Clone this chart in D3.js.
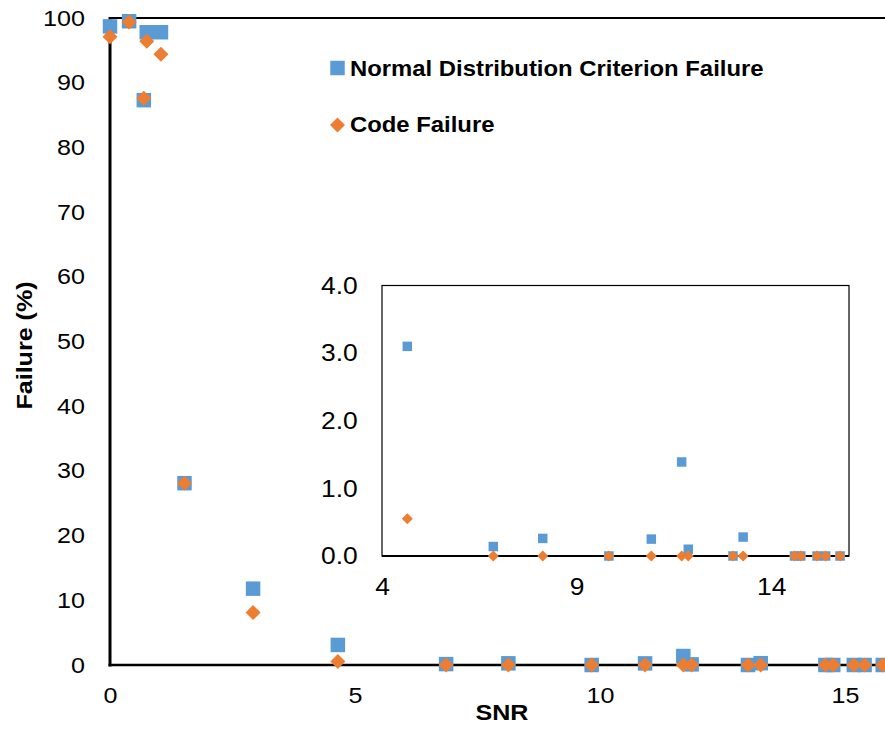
<!DOCTYPE html>
<html>
<head>
<meta charset="utf-8">
<script src="https://cdn.jsdelivr.net/npm/d3@7"></script>
<style>
  html, body { margin: 0; padding: 0; background: #ffffff; }
  svg { display: block; }
</style>
</head>
<body>
<script>
// Failure rates against signal-to-noise ratio
const snr            = [0, 0.39, 0.69, 0.75, 1.04, 1.52, 2.92, 4.65, 6.86, 8.13, 9.83, 10.92, 11.70, 11.87, 13.02, 13.28, 14.60, 14.76, 15.18, 15.40, 15.77];
const normalFailure  = [98.7, 99.5, 87.3, 97.8, 97.8, 28.1, 11.8, 3.10, 0.14, 0.26, 0, 0.25, 1.39, 0.10, 0, 0.28, 0, 0, 0, 0, 0];
const codeFailure    = [97.1, 99.4, 87.6, 96.4, 94.4, 28.1, 8.1, 0.55, 0, 0, 0, 0, 0, 0, 0, 0, 0, 0, 0, 0, 0];

const mainXTicks  = [0, 5, 10, 15];
const mainYTicks  = [0, 10, 20, 30, 40, 50, 60, 70, 80, 90, 100];
const insetXTicks = [4, 9, 14];
const insetYTicks = [0, 1, 2, 3, 4];

const seriesNames = ["Normal Distribution Criterion Failure", "Code Failure"];

const FONT = "'Liberation Sans', Arial, Helvetica, sans-serif";
const BLUE = "#5B9BD5";
const ORANGE = "#ED7D31";

const rows = snr.map((s, i) => ({ s, n: normalFailure[i], c: codeFailure[i] }));

const svg = d3.select("body").append("svg")
  .attr("width", 885)
  .attr("height", 730);

// marker generators: square and a square turned 45 degrees
const squareMark = size => d3.symbol().type(d3.symbolSquare).size(size * size)();
const diamondMark = diag => d3.symbol().type(d3.symbolSquare).size((diag * diag) / 2)();

// ---------- main chart ----------
const x = d3.scaleLinear().domain([0, 16]).range([110, 894]);
const y = d3.scaleLinear().domain([0, 100]).range([665, 18]);

function styleAxis(g, size, stretch) {
  g.attr("font-family", FONT).attr("font-size", size);
  g.select(".domain").remove();
  g.selectAll("text")
    .attr("fill", "#000")
    .attr("transform", `scale(${stretch},1)`);
}

svg.append("g")
  .attr("transform", `translate(${x(0)},0)`)
  .call(d3.axisLeft(y).tickValues(mainYTicks).tickSize(0).tickPadding(22).tickFormat(d3.format("d")))
  .call(g => styleAxis(g, 22, 1.14));

svg.append("g")
  .attr("transform", `translate(0,${y(0)})`)
  .call(d3.axisBottom(x).tickValues(mainXTicks).tickSize(0).tickPadding(22).tickFormat(d3.format("d")))
  .call(g => styleAxis(g, 22, 1.14));

// frame lines
svg.append("line").attr("x1", x(0)).attr("x2", 885).attr("y1", y(100)).attr("y2", y(100))
  .attr("stroke", "#000").attr("stroke-width", 2);
svg.append("line").attr("x1", x(0)).attr("x2", x(0)).attr("y1", y(100) - 1).attr("y2", y(0) + 1.5)
  .attr("stroke", "#000").attr("stroke-width", 3);
svg.append("line").attr("x1", x(0) - 1.5).attr("x2", 885).attr("y1", y(0)).attr("y2", y(0))
  .attr("stroke", "#000").attr("stroke-width", 2.5);

// axis titles
svg.append("text")
  .attr("transform", `translate(502,720) scale(1.14,1)`)
  .attr("text-anchor", "middle")
  .attr("font-family", FONT).attr("font-weight", "bold").attr("font-size", 22)
  .text("SNR");

svg.append("text")
  .attr("transform", `translate(32,${(y(0) + y(100)) / 2 + 4}) rotate(-90) scale(1.14,1)`)
  .attr("text-anchor", "middle")
  .attr("font-family", FONT).attr("font-weight", "bold").attr("font-size", 22)
  .text("Failure (%)");

// series markers
const main = svg.append("g");
main.selectAll("path.n").data(rows).join("path")
  .attr("class", "n")
  .attr("d", squareMark(14.5))
  .attr("transform", d => `translate(${x(d.s)},${y(d.n)})`)
  .attr("fill", BLUE);
main.selectAll("path.c").data(rows).join("path")
  .attr("class", "c")
  .attr("d", diamondMark(15))
  .attr("transform", d => `translate(${x(d.s)},${y(d.c)}) rotate(45)`)
  .attr("fill", ORANGE);

// legend
const legend = svg.append("g");
legend.append("path").attr("d", squareMark(14.5)).attr("transform", "translate(337.5,68)").attr("fill", BLUE);
legend.append("path").attr("d", diamondMark(15)).attr("transform", "translate(337.5,125) rotate(45)").attr("fill", ORANGE);
[[350, 76, seriesNames[0]], [350, 132, seriesNames[1]]].forEach(([lx, ly, t]) => {
  legend.append("text")
    .attr("transform", `translate(${lx},${ly}) scale(1.11,1)`)
    .attr("font-family", FONT).attr("font-weight", "bold").attr("font-size", 21.5)
    .attr("fill", "#000")
    .text(t);
});

// ---------- inset: close-up of the low-failure region ----------
const ix = d3.scaleLinear().domain([4, 16]).range([382, 849]);
const iy = d3.scaleLinear().domain([0, 4]).range([556, 285.5]);

const inset = svg.append("g");
inset.append("rect")
  .attr("x", ix(4)).attr("y", iy(4))
  .attr("width", ix(16) - ix(4)).attr("height", iy(0) - iy(4))
  .attr("fill", "#fff").attr("stroke", "#000").attr("stroke-width", 1.2);

inset.append("g")
  .attr("transform", `translate(${ix(4)},0)`)
  .call(d3.axisLeft(iy).tickValues(insetYTicks).tickSize(0).tickPadding(22).tickFormat(d3.format(".1f")))
  .call(g => styleAxis(g, 24, 1.1));

inset.append("g")
  .attr("transform", `translate(0,${iy(0)})`)
  .call(d3.axisBottom(ix).tickValues(insetXTicks).tickSize(0).tickPadding(22).tickFormat(d3.format("d")))
  .call(g => styleAxis(g, 24, 1.1));

inset.append("line").attr("x1", ix(4)).attr("x2", ix(16)).attr("y1", iy(0)).attr("y2", iy(0))
  .attr("stroke", "#000").attr("stroke-width", 2);

const insetRows = rows.filter(d => d.s >= 4 && d.s <= 16);
inset.selectAll("path.n").data(insetRows).join("path")
  .attr("class", "n")
  .attr("d", squareMark(9.5))
  .attr("transform", d => `translate(${ix(d.s)},${iy(d.n)})`)
  .attr("fill", BLUE);
inset.selectAll("path.c").data(insetRows).join("path")
  .attr("class", "c")
  .attr("d", diamondMark(11))
  .attr("transform", d => `translate(${ix(d.s)},${iy(d.c)}) rotate(45)`)
  .attr("fill", ORANGE);
</script>
</body>
</html>
